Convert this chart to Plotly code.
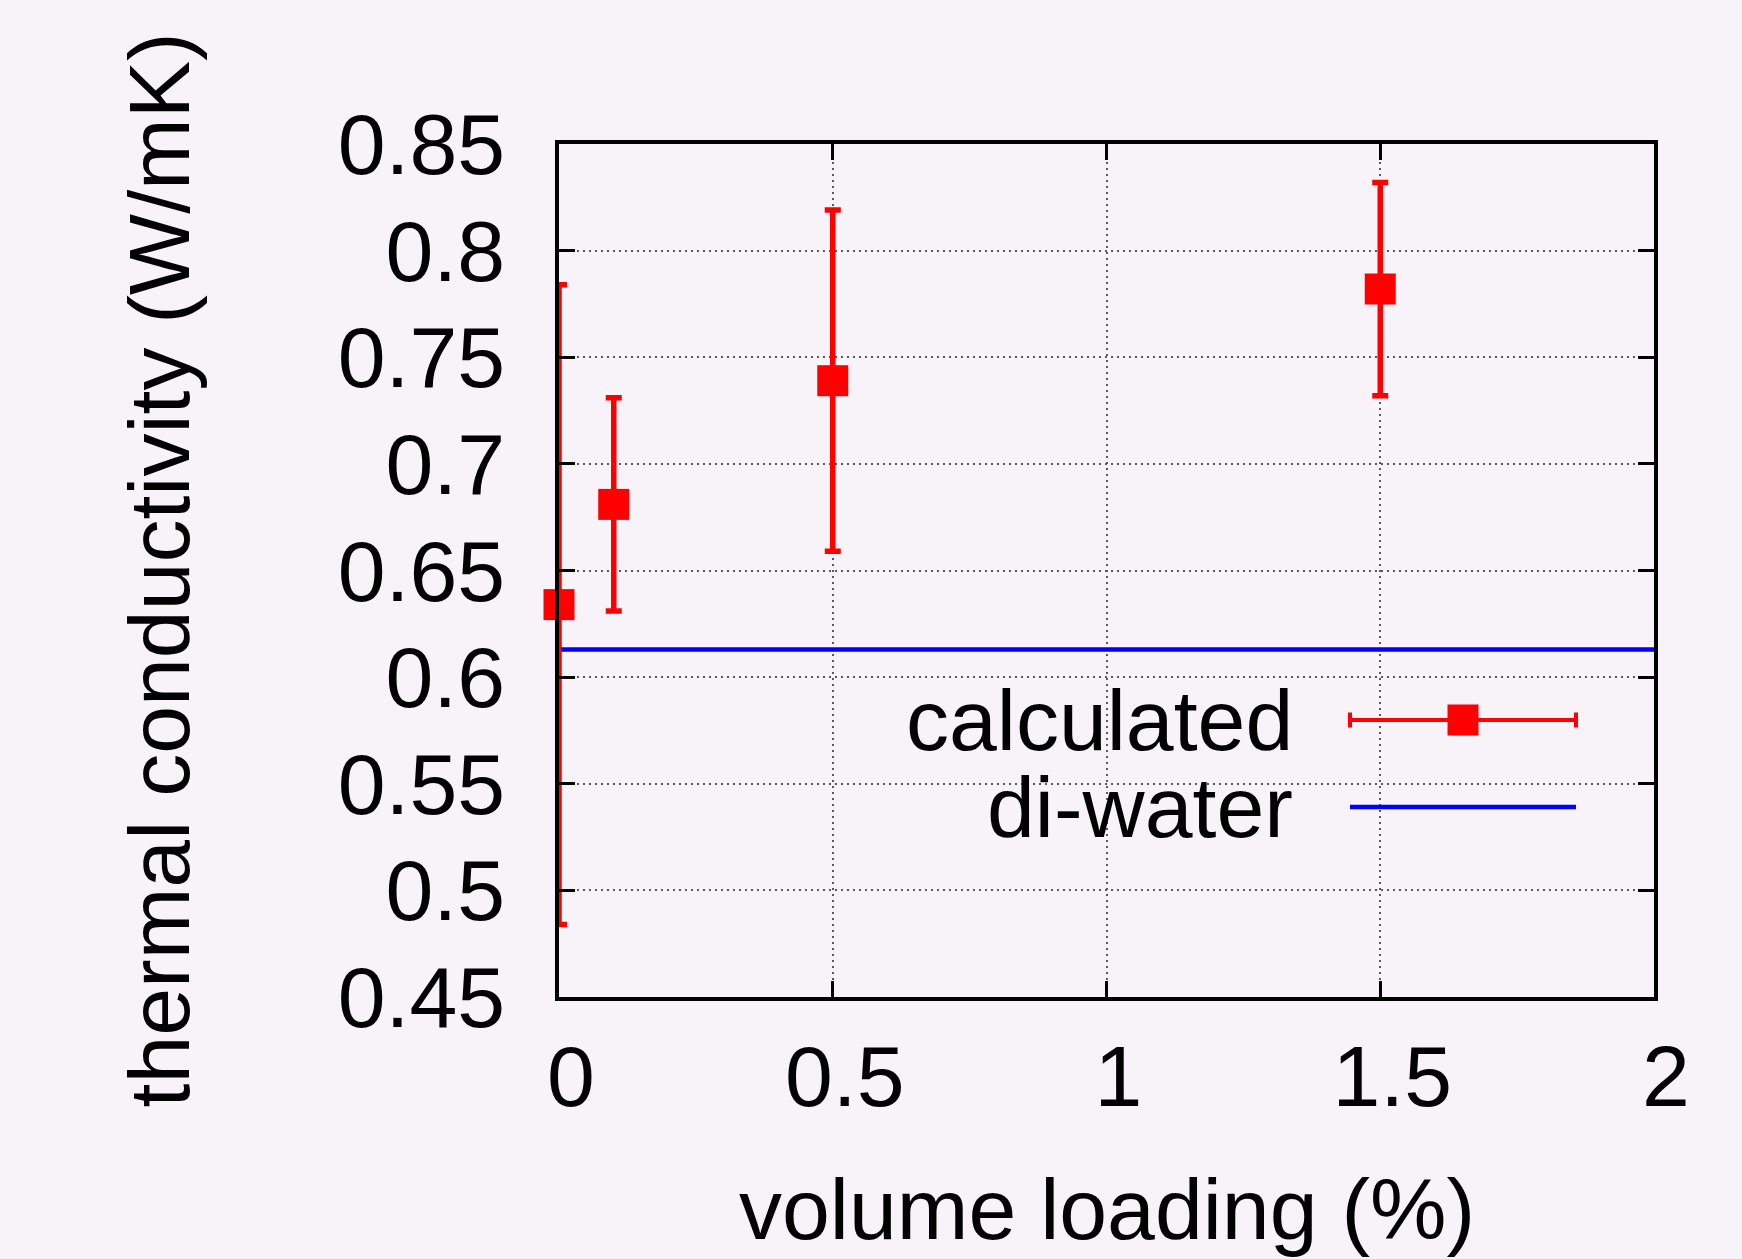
import plotly.graph_objects as go

# Measured thermal conductivity of the nanofluid vs. particle volume loading
loading = [0.0, 0.1, 0.5, 1.5]
conductivity = [0.634, 0.681, 0.739, 0.782]
conductivity_err = [0.150, 0.050, 0.080, 0.050]

# Reference value for de-ionised water
water_k = 0.613
water_x = [0.0, 2.0]

x_ticks = [0, 0.5, 1, 1.5, 2]
y_ticks = [0.45, 0.5, 0.55, 0.6, 0.65, 0.7, 0.75, 0.8, 0.85]
series_names = ["calculated", "di-water"]

FONT = "Liberation Sans, Arial, Helvetica, sans-serif"
BG = "#f8f2f9"
RED = "#ff0000"
BLUE = "#0000ff"
FS = 86

fig = go.Figure()

fig.add_trace(go.Scatter(
    x=water_x, y=[water_k] * len(water_x), mode="lines",
    line=dict(color=BLUE, width=4.5), name=series_names[1],
    showlegend=False,
))

fig.add_trace(go.Scatter(
    x=loading, y=conductivity, mode="markers",
    marker=dict(symbol="square", size=31, color=RED, line=dict(width=0)),
    error_y=dict(type="data", array=conductivity_err, visible=True,
                 color=RED, thickness=5.5, width=8),
    name=series_names[0], showlegend=False, cliponaxis=False,
))

axis_common = dict(
    showline=True, linecolor="black", linewidth=3.5, mirror="allticks",
    ticks="inside", ticklen=16, tickwidth=3, tickcolor="black",
    showgrid=True, gridcolor="rgb(90,90,90)", gridwidth=1.6,
    griddash="2px,4px", zeroline=False,
    tickfont=dict(family=FONT, size=FS, color="black"),
)

fig.update_xaxes(range=[0, 2], tickvals=x_ticks,
                 ticktext=[f"{v:g}" for v in x_ticks],
                 ticklabelstandoff=2, ticklabelshift=12, **axis_common)
fig.update_yaxes(range=[0.45, 0.85], tickvals=y_ticks,
                 ticktext=[f"{v:g}" for v in y_ticks],
                 ticklabelstandoff=33, **axis_common)

# Key box (opaque, hides the grid behind it) with hand-placed samples
def px_x(p):
    return (p - 559) / 1095


def px_y(p):
    return (997 - p) / 853


shapes = [
    dict(type="rect", xref="paper", yref="paper", layer="between",
         x0=px_x(778), x1=px_x(1627), y0=px_y(850), y1=px_y(679),
         fillcolor=BG, line=dict(width=0)),
]
row_calc, row_water = px_y(720), px_y(807)
sx0, sx1, sxc = px_x(1350), px_x(1576), px_x(1463)
cap = 7.5 / 853
shapes += [
    dict(type="line", xref="paper", yref="paper", x0=sx0, x1=sx1,
         y0=row_calc, y1=row_calc, line=dict(color=RED, width=4)),
    dict(type="line", xref="paper", yref="paper", x0=sx0, x1=sx0,
         y0=row_calc - cap, y1=row_calc + cap, line=dict(color=RED, width=4)),
    dict(type="line", xref="paper", yref="paper", x0=sx1, x1=sx1,
         y0=row_calc - cap, y1=row_calc + cap, line=dict(color=RED, width=4)),
    dict(type="rect", xref="paper", yref="paper",
         x0=sxc - 15.5 / 1095, x1=sxc + 15.5 / 1095,
         y0=row_calc - 15.5 / 853, y1=row_calc + 15.5 / 853,
         fillcolor=RED, line=dict(width=0)),
    dict(type="line", xref="paper", yref="paper", x0=sx0, x1=sx1,
         y0=row_water, y1=row_water, line=dict(color=BLUE, width=4.5)),
]

annotations = [
    dict(text=series_names[0], xref="paper", yref="paper", x=px_x(1295),
         y=row_calc, xanchor="right", yanchor="middle", showarrow=False,
         font=dict(family=FONT, size=FS, color="black")),
    dict(text=series_names[1], xref="paper", yref="paper", x=px_x(1295),
         y=row_water, xanchor="right", yanchor="middle", showarrow=False,
         font=dict(family=FONT, size=FS, color="black")),
    dict(text="volume loading (%)", xref="paper", yref="paper", x=0.5,
         y=px_y(1209), xanchor="center", yanchor="middle", showarrow=False,
         font=dict(family=FONT, size=FS, color="black")),
    dict(text="thermal conductivity (W/mK)", xref="paper", yref="paper",
         x=px_x(158), y=0.5, xanchor="center", yanchor="middle",
         textangle=-90, showarrow=False,
         font=dict(family=FONT, size=FS, color="black")),
]

fig.update_layout(
    width=1742, height=1259,
    margin=dict(l=559, r=88, t=144, b=262),
    paper_bgcolor=BG, plot_bgcolor=BG,
    showlegend=False,
    shapes=shapes, annotations=annotations,
    font=dict(family=FONT, size=FS, color="black"),
)

fig.write_html("out.html")
